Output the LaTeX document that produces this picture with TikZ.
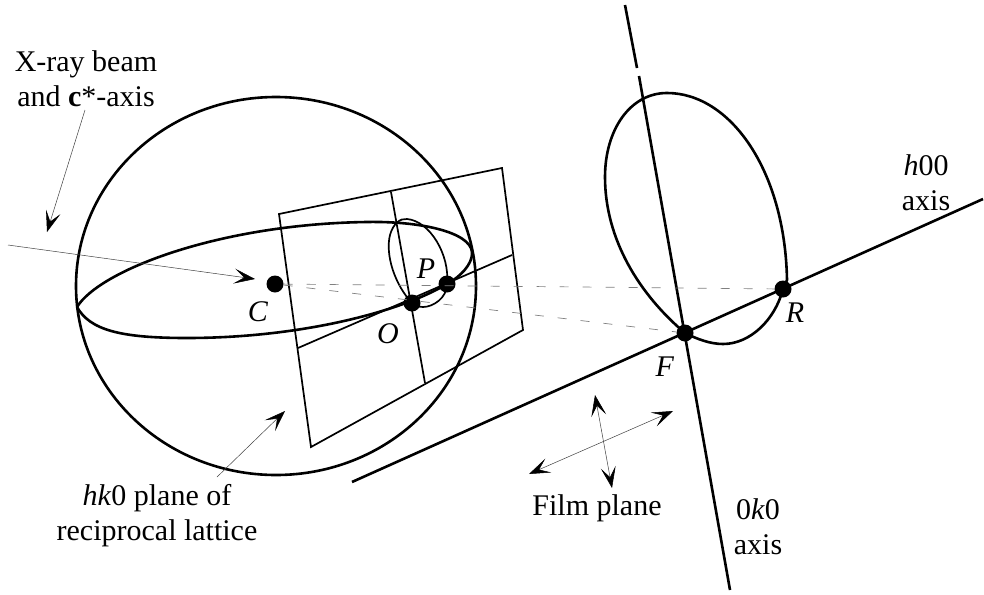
\documentclass[tikz,border=0pt]{standalone}
\usepackage{fontspec}
\setmainfont{Liberation Serif}
\usetikzlibrary{arrows.meta}
\tikzset{
heavy/.style={line width=2.6pt},
medium/.style={line width=1.7pt},
ray/.style={line width=0.5pt,black!75},
beam/.style={ray,-{Stealth[length=21pt,width=15pt,inset=10pt,black]}},
twoway/.style={ray,{Stealth[length=21pt,width=15pt,inset=10pt,black]}-{Stealth[length=21pt,width=15pt,inset=10pt,black]}},
proj/.style={line width=0.7pt,gray,dash pattern=on 9pt off 14pt},
spot/.style={circle,fill=black,inner sep=0pt,minimum size=17pt},
lbl/.style={font=\fontsize{30}{35}\selectfont,align=center,inner sep=0pt},
}
\begin{document}
\begin{tikzpicture}[x=1pt,y=-1pt]
\useasboundingbox (0,0) rectangle (984,594);
% reference points
\node[spot] (C) at (275,284) {};
\node[spot] (O) at (412,303) {};
\node[spot] (P) at (447,284) {};
\node[spot] (F) at (685,333) {};
\node[spot] (R) at (783,289) {};
\coordinate (beamstart) at (8,245);
\coordinate (beamend) at (255,279);
\coordinate (planeA) at (279,214);
\coordinate (planeB) at (502,168);
\coordinate (planeC) at (523,330);
\coordinate (planeD) at (311,447);
\coordinate (gridA) at (391,192);
\coordinate (gridB) at (425,383);
\coordinate (gridC) at (298,348);
\coordinate (gridD) at (512,255);
\coordinate (hstart) at (352,482);
\coordinate (hend) at (983,199);
\coordinate (kstart) at (625,5);
\coordinate (kgap) at (637,68);
\coordinate (kgapend) at (639,76);
\coordinate (kend) at (730,590);
% sphere
\draw[heavy] (276,286) ellipse [x radius=200,y radius=189];
% plane of the lattice
\draw[medium] (planeA) -- (planeB) -- (planeC) -- (planeD) -- cycle;
\draw[medium] (gridA) -- (gridB);
\draw[medium] (gridC) -- (gridD);
% circle of the sphere
\draw[heavy] (77,307) .. controls (100,270) and (220,224) .. (367,222)
  .. controls (420,221) and (470,232) .. (472,252)
  .. controls (473,264) and (460,277) .. (P.center)
  .. controls (400,312) and (300,338) .. (187,338)
  .. controls (120,338) and (90,330) .. (77,307);
% small circle
\draw[medium] (O.center) .. controls (395,285) and (385,255) .. (390,235)
  .. controls (393,224) and (400,218) .. (407,219)
  .. controls (430,221) and (450,255) .. (P.center)
  .. controls (447,298) and (433,307) .. (423,307)
  .. controls (418,307) and (414,305) .. (O.center);
% film circle
\draw[heavy] (F.center) .. controls (640,295) and (605,240) .. (605,177)
  .. controls (605,130) and (630,93) .. (667,93)
  .. controls (730,93) and (785,170) .. (787,280) -- (R.center)
  .. controls (775,320) and (750,344) .. (723,344)
  .. controls (710,344) and (697,339) .. (F.center);
% axes
\draw[heavy] (hstart) -- (hend);
\draw[heavy] (kstart) -- (kgap);
\draw[heavy] (kgapend) -- (kend);
% projection lines
\draw[proj] (C) -- (R);
\draw[proj] (C) -- (F);
% arrows
\coordinate (xa) at (85,110);
\coordinate (xb) at (47,232);
\coordinate (la) at (217,477);
\coordinate (lb) at (285,411);
\coordinate (fa) at (595,395);
\coordinate (fb) at (612,488);
\coordinate (fc) at (529,474);
\coordinate (fd) at (673,411);
\draw[beam] (beamstart) -- (beamend);
\draw[beam] (xa) -- (xb);
\draw[beam] (la) -- (lb);
\draw[twoway] (fa) -- (fb);
\draw[twoway] (fc) -- (fd);
% labels
\node[lbl] (xlabel) at (86,79) {X-ray beam\\and \textbf{c}*-axis};
\node[lbl] (Clabel) at (258,312) {\textit{C}};
\node[lbl] (Olabel) at (388,334) {\textit{O}};
\node[lbl] (Plabel) at (426,269) {\textit{P}};
\node[lbl] (Flabel) at (665,367) {\textit{F}};
\node[lbl] (Rlabel) at (795,313) {\textit{R}};
\node[lbl] (hlabel) at (926,183) {\textit{h}00\\axis};
\node[lbl] (klabel) at (758,527) {0\textit{k}0\\axis};
\node[lbl] (llabel) at (157,516) {\textit{hk}0 plane of\\reciprocal lattice};
\node[lbl] (flabel) at (597,508) {Film plane};
\end{tikzpicture}
\end{document}
